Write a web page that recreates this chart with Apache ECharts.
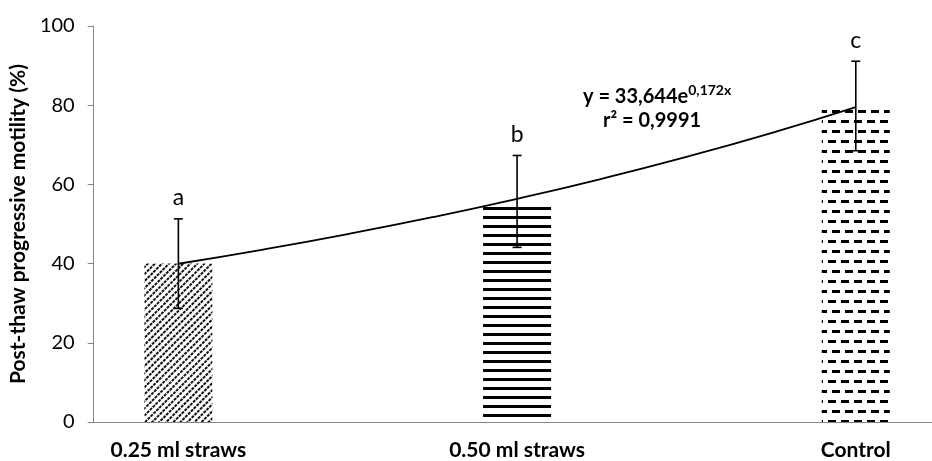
<!DOCTYPE html>
<html>
<head>
<meta charset="utf-8">
<script src="https://cdn.jsdelivr.net/npm/echarts@6/dist/echarts.min.js"></script>
<style>
  html, body { margin: 0; padding: 0; background: #fff; }
  #chart { width: 932px; height: 461px; }
</style>
</head>
<body>
<div id="chart"></div>
<script>
// groups sit at x = 1, 3, 5 (same x the trendline uses)
const categories = ['0.25 ml straws', '0.50 ml straws', 'Control'];
const xPos = [1, 3, 5];
const motility = [40.0, 55.7, 79.8];
const sdev = [11.3, 11.6, 11.3];
const letters = ['a', 'b', 'c'];

// exponential trendline
const trendX = [1, 1.5, 2, 2.5, 3, 3.5, 4, 4.5, 5];
const trendY = [39.96, 43.55, 47.46, 51.72, 56.36, 61.42, 66.94, 72.95, 79.51];

const yTicks = [0, 20, 40, 60, 80, 100];

const FONT = 'Lato, "Open Sans", sans-serif';

// fill patterns for the three bars
const decals = [
  { symbol: 'rect', symbolSize: 1, color: '#111', dashArrayX: [3, 1], dashArrayY: [1.8, 3], rotation: -Math.PI / 4 },
  { symbol: 'rect', symbolSize: 1, color: '#000', dashArrayX: [1, 0], dashArrayY: [3, 5.84] },
  { symbol: 'rect', symbolSize: 1, color: '#000', dashArrayX: [[8, 5], [4, 5, 4, 0]], dashArrayY: [2.4, 6.3] }
];

const chart = echarts.init(document.getElementById('chart'));

chart.setOption({
  animation: false,
  textStyle: { fontFamily: FONT },
  grid: { left: 93, right: 0, top: 26, bottom: 38 },
  xAxis: {
    type: 'value',
    min: 0.5,
    max: 5.45,
    axisLine: { show: true, lineStyle: { color: '#868686', width: 1 } },
    axisTick: { show: false },
    splitLine: { show: false },
    axisLabel: {
      customValues: xPos,
      formatter: v => categories[xPos.indexOf(v)] || '',
      fontFamily: FONT,
      fontWeight: 'bold',
      fontSize: 21,
      color: '#000',
      margin: 18
    }
  },
  yAxis: {
    type: 'value',
    min: yTicks[0],
    max: yTicks[yTicks.length - 1],
    interval: 20,
    name: 'Post-thaw progressive motility (%)',
    nameLocation: 'middle',
    nameGap: 59,
    nameTextStyle: { fontFamily: FONT, fontWeight: 'bold', fontSize: 21, color: '#000' },
    axisLine: { show: true, lineStyle: { color: '#868686', width: 1 } },
    axisTick: { show: true, length: 6, lineStyle: { color: '#868686' } },
    splitLine: { show: false },
    axisLabel: { fontFamily: FONT, fontSize: 20, color: '#000', margin: 19 }
  },
  series: [
    {
      type: 'bar',
      barWidth: 68,
      data: xPos.map((x, i) => ({
        value: [x, motility[i]],
        itemStyle: { color: '#fff', decal: decals[i] }
      }))
    },
    {
      type: 'line',
      smooth: true,
      showSymbol: false,
      z: 5,
      lineStyle: { color: '#000', width: 1.8 },
      data: trendX.map((x, i) => [x, trendY[i]])
    },
    {
      type: 'custom',
      z: 10,
      data: xPos.map((x, i) => [x, motility[i], sdev[i]]),
      renderItem: function (params, api) {
        const x = api.value(0), m = api.value(1), e = api.value(2);
        const hi = api.coord([x, m + e]);
        const lo = api.coord([x, m - e]);
        const cap = 4.5;
        const st = { stroke: '#000', lineWidth: 1.6 };
        return {
          type: 'group',
          children: [
            { type: 'line', shape: { x1: hi[0], y1: hi[1], x2: lo[0], y2: lo[1] }, style: st },
            { type: 'line', shape: { x1: hi[0] - cap, y1: hi[1], x2: hi[0] + cap, y2: hi[1] }, style: st },
            { type: 'line', shape: { x1: lo[0] - cap, y1: lo[1], x2: lo[0] + cap, y2: lo[1] }, style: st },
            {
              type: 'text', x: hi[0], y: hi[1] - 21,
              style: {
                text: letters[params.dataIndex], fill: '#000',
                font: '23px ' + FONT, align: 'center', verticalAlign: 'middle'
              }
            }
          ]
        };
      }
    }
  ],
  graphic: [
    {
      type: 'text', left: 583, top: 83,
      style: {
        text: '{m|y = 33,644e}{s|0,172x}',
        rich: {
          m: { fontFamily: FONT, fontWeight: 'bold', fontSize: 20, fill: '#000', lineHeight: 24, verticalAlign: 'bottom' },
          s: { fontFamily: FONT, fontWeight: 'bold', fontSize: 14, fill: '#000', lineHeight: 22, verticalAlign: 'top' }
        }
      }
    },
    {
      type: 'text', left: 603, top: 111,
      style: { text: 'r² = 0,9991', font: 'bold 20px ' + FONT, fill: '#000' }
    }
  ]
});
</script>
</body>
</html>
